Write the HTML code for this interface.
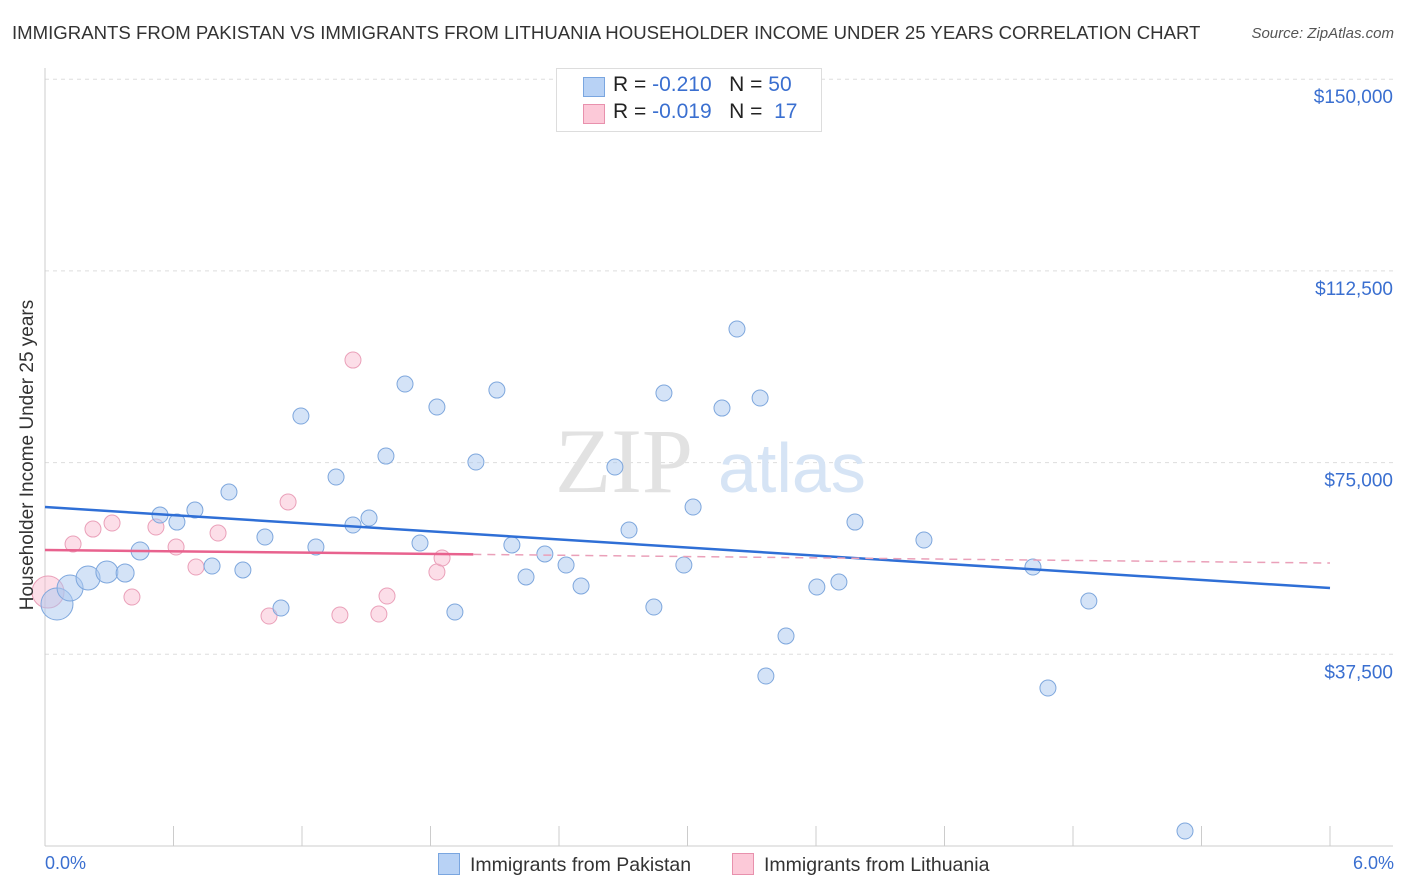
<!DOCTYPE html>
<html><head><meta charset="utf-8"><style>
body{margin:0;background:#fff;font-family:"Liberation Sans",sans-serif;}
#wrap{position:relative;width:1406px;height:892px;overflow:hidden;}
.t{position:absolute;white-space:nowrap;}
</style></head><body>
<div id="wrap">
<div class="t" style="left:12px;top:22px;font-size:18.6px;color:#333;">IMMIGRANTS FROM PAKISTAN VS IMMIGRANTS FROM LITHUANIA HOUSEHOLDER INCOME UNDER 25 YEARS CORRELATION CHART</div>
<div class="t" style="right:12px;top:25px;font-size:15px;color:#555;font-style:italic;">Source: ZipAtlas.com</div>
<svg id="svg" width="1406" height="892" style="position:absolute;left:0;top:0"></svg>
<div class="t" style="left:556px;top:68px;width:264px;height:62px;border:1px solid #ddd;background:#fff;font-size:21px;color:#222;">
  <div style="position:absolute;left:26px;top:8px;width:20px;height:18px;background:#b8d2f5;border:1px solid #7aa6e0"></div>
  <div style="position:absolute;left:56px;top:4px">R = <span style="color:#3a6fd0">-0.210</span>&nbsp;&nbsp;&nbsp;N = <span style="color:#3a6fd0">50</span></div>
  <div style="position:absolute;left:26px;top:35px;width:20px;height:18px;background:#fcc9d8;border:1px solid #e891ad"></div>
  <div style="position:absolute;left:56px;top:31px">R = <span style="color:#3a6fd0">-0.019</span>&nbsp;&nbsp;&nbsp;N = &nbsp;<span style="color:#3a6fd0">17</span></div>
</div>
<div class="t" style="left:28px;top:455px;font-size:19px;color:#333;transform:translate(-50%,-50%) rotate(-90deg);transform-origin:center;">Householder Income Under 25 years</div>
<div class="t" style="left:45px;top:853px;font-size:18px;color:#3a6fd0;">0.0%</div>
<div class="t" style="right:12px;top:853px;font-size:18px;color:#3a6fd0;">6.0%</div>
<div class="t" style="left:438px;top:853px;font-size:19.5px;color:#333;"><span style="display:inline-block;width:20px;height:20px;background:#b8d2f5;border:1px solid #7aa6e0;vertical-align:-4px;margin-right:10px"></span>Immigrants from Pakistan</div>
<div class="t" style="left:732px;top:853px;font-size:19.5px;color:#333;"><span style="display:inline-block;width:20px;height:20px;background:#fcc9d8;border:1px solid #e891ad;vertical-align:-4px;margin-right:10px"></span>Immigrants from Lithuania</div>
</div>
<script>
const yTicks=[37500,75000,112500,150000];
const yTickLabels=["$37,500","$75,000","$112,500","$150,000"];
const xTicks=[0,0.6,1.2,1.8,2.4,3.0,3.6,4.2,4.8,5.4,6.0];
const blueX=[0.056,0.117,0.201,0.289,0.374,0.444,0.537,0.616,0.700,0.780,0.859,0.924,1.027,1.102,1.195,1.265,1.359,1.438,1.513,1.592,1.681,1.751,1.830,1.914,2.012,2.110,2.180,2.246,2.334,2.433,2.503,2.661,2.727,2.843,2.890,2.983,3.026,3.161,3.231,3.339,3.366,3.460,3.604,3.707,3.782,4.104,4.613,4.683,4.874,5.323];
const blueY=[47340,50470,52420,53600,53400,57700,64740,63370,65720,54770,69240,53990,60440,46550,84110,58480,72180,62790,64160,76280,90370,59270,85870,45770,75110,89190,58880,52620,57120,54960,50860,74130,61810,46750,88610,54960,66310,85670,101130,87630,33250,41080,50660,51640,63370,59850,54570,30900,47920,2930];
const blueR=[16,13,12,11,9,9,8,8,8,8,8,8,8,8,8,8,8,8,8,8,8,8,8,8,8,8,8,8,8,8,8,8,8,8,8,8,8,8,8,8,8,8,8,8,8,8,8,8,8,8];
const pinkX=[0.014,0.131,0.224,0.313,0.406,0.518,0.612,0.705,0.808,1.046,1.135,1.377,1.438,1.559,1.597,1.830,1.854];
const pinkY=[49680,59070,62000,63180,48700,62400,58480,54570,61220,44990,67290,45180,95060,45380,48900,53590,56330];
const pinkR=[16,8,8,8,8,8,8,8,8,8,8,8,8,8,8,8,8];
const blueTrend=[66310,50460];
const pinkTrend=[57900,55350];
const pinkSolidEnd=2.0;

const NS="http://www.w3.org/2000/svg",svg=document.getElementById('svg');
const X=v=>45+v/6*1285, Y=v=>846-v/37500*191.7;
function mk(t,a){const e=document.createElementNS(NS,t);for(const k in a)e.setAttribute(k,a[k]);svg.appendChild(e);return e;}
yTicks.forEach((v,i)=>{
  const g=mk('line',{x1:45,x2:1393,y1:Y(v),y2:Y(v),stroke:'#ddd','stroke-dasharray':'4,4'});
  
  
  const t=mk('text',{x:1393,y:Y(v)+24,'text-anchor':'end','font-size':19,fill:'#3a6fd0','font-family':'Liberation Sans, sans-serif'});
  t.textContent=yTickLabels[i];
  
  
});
const ax=mk('line',{x1:45,x2:1393,y1:846,y2:846,stroke:'#ccc'});


const ay=mk('line',{x1:45,x2:45,y1:68,y2:846,stroke:'#ccc'});


xTicks.forEach(v=>{const l=mk('line',{x1:X(v),x2:X(v),y1:826,y2:846,stroke:'#ccc'});
  
  });
const w1=mk('text',{x:555,y:492,'font-size':92,fill:'#e2e2e2','font-family':'Liberation Serif, serif'});w1.textContent='ZIP';


const w2=mk('text',{x:718,y:492,'font-size':70,fill:'#d6e4f5','font-family':'Liberation Sans, sans-serif'});w2.textContent='atlas';


pinkX.forEach((v,i)=>{const c=mk('circle',{cx:X(v),cy:Y(pinkY[i]),r:pinkR[i],fill:'rgba(248,182,204,0.45)',stroke:'#eaa0b9','stroke-width':1});
  
  });
blueX.forEach((v,i)=>{const c=mk('circle',{cx:X(v),cy:Y(blueY[i]),r:blueR[i],fill:'rgba(170,200,240,0.5)',stroke:'#7ea7dd','stroke-width':1});
  
  });
const bt=mk('line',{x1:X(0),y1:Y(blueTrend[0]),x2:X(6),y2:Y(blueTrend[1]),stroke:'#2f6fd6','stroke-width':2.5});


const pm=pinkTrend[0]+(pinkTrend[1]-pinkTrend[0])*pinkSolidEnd/6;
const ps=mk('line',{x1:X(0),y1:Y(pinkTrend[0]),x2:X(pinkSolidEnd),y2:Y(pm),stroke:'#e8628e','stroke-width':2.5});


const pd=mk('line',{x1:X(pinkSolidEnd),y1:Y(pm),x2:X(6),y2:Y(pinkTrend[1]),stroke:'#eaa0b9','stroke-width':1.5,'stroke-dasharray':'8,6'});


</script>
</body></html>
